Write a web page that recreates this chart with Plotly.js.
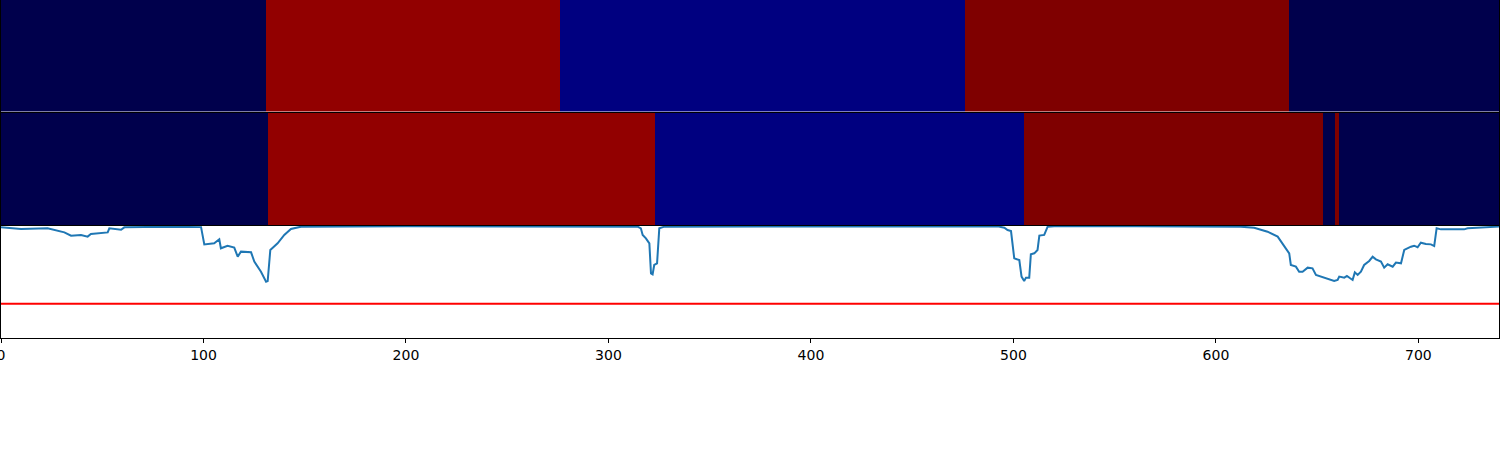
<!DOCTYPE html>
<html>
<head>
<meta charset="utf-8">
<script src="https://cdn.plot.ly/plotly-3.0.1.min.js"></script>
<style>html,body{margin:0;padding:0;background:#fff;}#chart{width:1500px;height:450px;}</style>
</head>
<body>
<div id="chart"></div>
<script>
// Segment boundaries and labels for the two label rows (0 navy, 1 blue, 2 red, 3 maroon)
const topEdges = [0, 131, 276, 476, 636, 741];
const topLabels = [0, 2, 1, 3, 0];
const midEdges = [0, 132, 323, 505, 653, 659, 661, 741];
const midLabels = [0, 2, 1, 3, 0, 3, 0];
const labelColors = ['#00004c', '#000080', '#920000', '#7f0000'];

// Signal line
const lineX = [0, 9.9, 23, 31.3, 34.6, 39.5, 42.8, 44.4, 52.7, 53.5, 59.3, 60.9, 80, 98.8,
  100.4, 105.3, 107.8, 108.6, 111.9, 115.2, 116.9, 118.5, 123.5, 125.1, 128.4, 130.9, 131.7, 133, 136.6, 139.9, 143.2, 148.1,
  200, 250, 300, 311.1, 314.4, 316, 316.9, 318.5, 320.2, 321, 321.8, 322.6, 324, 325.1, 327.6,
  380, 440, 492.2, 495.5, 497.1, 498.8, 500.4, 502.9, 504, 505.3, 506.2, 507.8, 508.6, 510.3, 511.9, 512.8, 515.2, 516.9, 520.1,
  560, 592.6, 612.3, 618.9, 625.5, 630.5, 632.9, 634.6, 636.2, 637, 639.5, 641.1, 642.8, 645.3, 647.7, 649.4, 651.9, 655.1,
  658.4, 660.1, 660.9, 663.4, 664.7, 666.3, 667.5, 668.6, 670, 671.6, 673.2, 675.7, 677.4, 679, 681.5, 683.1, 684.8, 687.3,
  688.9, 691.4, 693, 696.3, 697.9, 699.6, 701.2, 703.7, 706.2, 707.8, 709, 711.1, 722.6, 724.3, 732.5, 740];
const lineY = [0.988, 0.973, 0.979, 0.943, 0.913, 0.920, 0.905, 0.929, 0.943, 0.979, 0.967, 0.988, 0.993, 0.990,
  0.836, 0.845, 0.881, 0.801, 0.824, 0.807, 0.726, 0.771, 0.765, 0.682, 0.592, 0.503, 0.509, 0.786, 0.845, 0.920, 0.973, 0.994,
  0.998, 0.998, 0.997, 0.997, 0.994, 0.979, 0.920, 0.890, 0.845, 0.577, 0.568, 0.652, 0.667, 0.979, 0.994,
  0.996, 0.996, 0.997, 0.985, 0.964, 0.955, 0.711, 0.696, 0.548, 0.509, 0.539, 0.539, 0.747, 0.756, 0.786, 0.914, 0.920, 0.994, 0.998,
  0.998, 0.997, 0.994, 0.985, 0.949, 0.905, 0.845, 0.801, 0.756, 0.652, 0.637, 0.592, 0.592, 0.628, 0.622, 0.563, 0.548, 0.533,
  0.509, 0.518, 0.548, 0.539, 0.554, 0.533, 0.518, 0.586, 0.563, 0.592, 0.652, 0.688, 0.726, 0.702, 0.682, 0.628, 0.658, 0.637,
  0.673, 0.667, 0.786, 0.815, 0.824, 0.810, 0.851, 0.839, 0.836, 0.821, 0.979, 0.970, 0.970, 0.979, 0.988, 0.995];
const threshold = 0.305;
const xTicks = [0, 100, 200, 300, 400, 500, 600, 700];

const xMax = 739.8;
const H = 338;
function dom(a, b) { return [(H - b) / H, (H - a) / H]; }

const discreteScale = [[0, labelColors[0]], [0.25, labelColors[0]], [0.25, labelColors[1]], [0.5, labelColors[1]],
  [0.5, labelColors[2]], [0.75, labelColors[2]], [0.75, labelColors[3]], [1, labelColors[3]]];

const traces = [
  {type: 'heatmap', x: topEdges, y: [0, 1], z: [topLabels], zmin: 0, zmax: 3, colorscale: discreteScale,
   showscale: false, xaxis: 'x', yaxis: 'y', hoverinfo: 'skip'},
  {type: 'heatmap', x: midEdges, y: [0, 1], z: [midLabels], zmin: 0, zmax: 3, colorscale: discreteScale,
   showscale: false, xaxis: 'x2', yaxis: 'y2', hoverinfo: 'skip'},
  {type: 'scatter', mode: 'lines', x: lineX, y: lineY, line: {color: '#1f77b4', width: 2},
   xaxis: 'x3', yaxis: 'y3', showlegend: false},
  {type: 'scatter', mode: 'lines', x: [0, xMax], y: [threshold, threshold], line: {color: '#ff0000', width: 2},
   xaxis: 'x3', yaxis: 'y3', showlegend: false}
];

const hiddenX = {range: [0, xMax], showticklabels: false, ticks: '', showgrid: false, zeroline: false,
  showline: true, mirror: true, linecolor: '#000', linewidth: 1};
const hiddenY = {range: [0, 1], showticklabels: false, ticks: '', showgrid: false, zeroline: false,
  showline: true, mirror: true, linecolor: '#000', linewidth: 1};

const layout = {
  width: 1500, height: 450,
  margin: {l: 1, r: 1, t: 0, b: 112, pad: 0},
  paper_bgcolor: '#fff', plot_bgcolor: '#fff',
  font: {family: 'DejaVu Sans', size: 14, color: '#000'},
  showlegend: false,
  xaxis: Object.assign({}, hiddenX, {anchor: 'y'}),
  yaxis: Object.assign({}, hiddenY, {domain: dom(0, 111.5), anchor: 'x'}),
  xaxis2: Object.assign({}, hiddenX, {anchor: 'y2'}),
  yaxis2: Object.assign({}, hiddenY, {domain: dom(112.5, 225), anchor: 'x2'}),
  xaxis3: {range: [0, xMax], anchor: 'y3', tickmode: 'array', tickvals: xTicks, ticktext: xTicks.map(String),
    ticks: 'outside', ticklen: 4, tickwidth: 1, tickcolor: '#000', showgrid: false, zeroline: false,
    showline: true, mirror: true, linecolor: '#000', linewidth: 1, tickfont: {size: 14},
    ticklabeloverflow: 'allow'},
  yaxis3: Object.assign({}, hiddenY, {domain: dom(226, 338), anchor: 'x3'})
};

Plotly.newPlot('chart', traces, layout, {staticPlot: true, displayModeBar: false});
</script>
</body>
</html>
